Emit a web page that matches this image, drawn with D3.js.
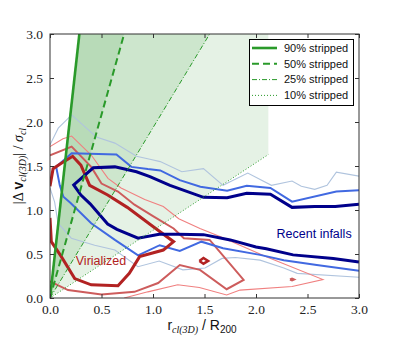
<!DOCTYPE html>
<html>
<head>
<meta charset="utf-8">
<script src="https://cdn.jsdelivr.net/npm/d3@7"></script>
<style>
  body { margin: 0; background: #fff; }
  svg { display: block; }
</style>
</head>
<body>
<svg id="chart" width="399" height="342"></svg>
<script>
// stripping lines: end points in (r, dv) units, all start at the origin
const stripLabels = ["90% stripped", "50% stripped", "25% stripped", "10% stripped"];
const stripEnds = [[0.285, 3.0], [0.72, 3.0], [1.55, 3.0], [2.12, 1.63]];

const xTicks = [0.0, 0.5, 1.0, 1.5, 2.0, 2.5, 3.0];
const yTicks = [0.0, 0.5, 1.0, 1.5, 2.0, 2.5, 3.0];

// recent infalls contours (outer -> inner)
const lightBlueUpper = [[0, 1.74], [0.08, 1.93], [0.21, 2.08], [0.45, 1.83], [0.63, 1.76], [0.84, 1.61], [0.97, 1.576], [1.07, 1.55], [1.28, 1.435], [1.49, 1.47], [1.68, 1.28], [1.92, 1.42], [2.15, 1.28], [2.35, 1.33], [2.44, 1.27], [2.57, 1.235], [2.69, 1.28], [2.78, 1.43], [3.0, 1.385]];
const lightBlueLower = [[0, 1.25], [0.045, 1.09], [0.078, 0.85], [0.207, 0.68], [0.434, 0.6], [0.63, 0.545], [0.854, 0.356], [1.06, 0.42], [1.29, 0.32], [1.505, 0.34], [1.67, 0.45], [1.8, 0.46], [2.04, 0.43], [2.27, 0.34], [2.4, 0.28], [3.0, 0.235]];
const royalLine = [[3.0, 1.225], [2.78, 1.21], [2.35, 1.095], [2.14, 1.25], [1.91, 1.275], [1.72, 1.22], [1.46, 1.265], [1.26, 1.34], [1.07, 1.45], [0.95, 1.465], [0.79, 1.49], [0.645, 1.63], [0.21, 1.645], [0.06, 1.49], [0.095, 1.28], [0.13, 1.15], [0.2, 1.08], [0.4, 0.85], [0.63, 0.66], [0.855, 0.485], [1.065, 0.6], [1.26, 0.535], [1.47, 0.64], [1.68, 0.565], [2.04, 0.49], [2.27, 0.43], [2.59, 0.375], [3.0, 0.31]];
const navyLine = [[3.0, 1.065], [2.77, 1.04], [2.57, 1.04], [2.35, 1.03], [2.14, 1.18], [1.91, 1.19], [1.72, 1.14], [1.49, 1.144], [1.165, 1.28], [0.97, 1.38], [0.84, 1.435], [0.63, 1.49], [0.42, 1.48], [0.23, 1.285], [0.3, 1.17], [0.39, 1.07], [0.56, 0.84], [0.65, 0.78], [0.855, 0.68], [1.06, 0.725], [1.24, 0.725], [1.49, 0.72], [1.75, 0.66], [2.0, 0.58], [2.1, 0.56], [2.36, 0.49], [2.75, 0.45], [3.0, 0.41]];

// virialized contours (outer -> inner)
const lightRedLine = [[0, 1.72], [0.126, 1.81], [0.21, 1.84], [0.4, 1.625], [0.563, 1.36], [0.69, 1.25], [0.92, 1.12], [1.1, 1.04], [1.25, 0.9], [1.456, 0.79], [1.65, 0.7], [2.1, 0.47], [2.65, 0.21], [2.35, 0.13], [1.845, 0.09], [1.715, 0.034], [1.45, 0.12], [1.24, 0.15], [0.95, 0.07], [0.72, 0.0]];
const midRedLine = [[0, 1.62], [0.21, 1.72], [0.4, 1.49], [0.5, 1.3], [0.66, 1.21], [0.82, 1.06], [1.0, 0.93], [1.2, 0.79], [1.3, 0.68], [1.55, 0.66], [1.88, 0.205], [1.715, 0.1], [1.456, 0.32], [1.26, 0.375], [1.05, 0.17], [0.82, 0.07], [0.5, 0.04], [0.175, 0.09], [0, 0.19]];
const midRedDot = [[2.33, 0.21], [2.35, 0.22], [2.37, 0.21], [2.35, 0.2], [2.33, 0.21]];
const darkRedLine = [[0, 1.27], [0.03, 1.47], [0.11, 1.53], [0.22, 1.61], [0.3, 1.51], [0.385, 1.28], [0.56, 1.17], [0.75, 1.03], [0.98, 0.83], [1.2, 0.64], [1.1, 0.545], [0.87, 0.47], [0.77, 0.28], [0.66, 0.14], [0.4, 0.15], [0.24, 0.22], [0.11, 0.47], [0.013, 0.64], [0, 0.91]];
const darkRedDiamond = [[1.45, 0.42], [1.49, 0.455], [1.535, 0.42], [1.49, 0.39], [1.45, 0.42]];

const svg = d3.select("#chart");
const margin = { left: 50, right: 40, top: 34, bottom: 44 };
const w = 399 - margin.left - margin.right,
	h = 342 - margin.top - margin.bottom;

const x = d3.scaleLinear().domain([0, 3]).range([margin.left, margin.left + w]);
const y = d3.scaleLinear().domain([0, 3]).range([margin.top + h, margin.top]);

svg.append("defs").append("clipPath").attr("id", "clip")
	.append("rect")
	.attr("x", margin.left).attr("y", margin.top)
	.attr("width", w).attr("height", h);

const plot = svg.append("g").attr("clip-path", "url(#clip)");

// green shaded wedges, each one stacked with alpha
const top90 = stripEnds[0];
const wedges = [
	[[0, 0], top90, [stripEnds[3][0], 3.0], stripEnds[3]],
	[[0, 0], top90, stripEnds[2]],
	[[0, 0], top90, stripEnds[1]]
];
plot.selectAll(".wedge")
	.data(wedges)
	.enter()
	.append("path")
	.attr("class", "wedge")
	.attr("d", d => "M" + d.map(p => x(p[0]) + "," + y(p[1])).join("L") + "Z")
	.attr("fill", "rgb(0,128,0)")
	.attr("fill-opacity", 0.1);

const line = d3.line().x(d => x(d[0])).y(d => y(d[1]));

const contours = [
	{ pts: lightBlueUpper, color: "#b0c4de", width: 1.1 },
	{ pts: lightBlueLower, color: "#b0c4de", width: 1.1 },
	{ pts: lightRedLine, color: "#f08080", width: 1.1 },
	{ pts: midRedLine, color: "#cd5c5c", width: 2 },
	{ pts: midRedDot, color: "#cd5c5c", width: 2 },
	{ pts: royalLine, color: "#4169e1", width: 2 },
	{ pts: darkRedLine, color: "#b22222", width: 3 },
	{ pts: darkRedDiamond, color: "#b22222", width: 2.5 },
	{ pts: navyLine, color: "#00008b", width: 3 }
];

plot.selectAll(".contour")
	.data(contours)
	.enter()
	.append("path")
	.attr("class", "contour")
	.attr("d", d => line(d.pts))
	.attr("fill", "none")
	.attr("stroke", d => d.color)
	.attr("stroke-width", d => d.width)
	.attr("stroke-linejoin", "miter");

// stripping lines
const green = "#2a9a2a";
const styles = [
	{ width: 2.6, dash: null },
	{ width: 2, dash: "7,4" },
	{ width: 1, dash: "5,2,1,2" },
	{ width: 1, dash: "1,2" }
];
plot.selectAll(".strip")
	.data(stripEnds)
	.enter()
	.append("path")
	.attr("class", "strip")
	.attr("d", d => line([[0, 0], d]))
	.attr("fill", "none")
	.attr("stroke", green)
	.attr("stroke-width", (d, i) => styles[i].width)
	.attr("stroke-dasharray", (d, i) => styles[i].dash);

// labels inside the plot
svg.append("text")
	.attr("x", x(0.25)).attr("y", y(0.38))
	.attr("font-family", "Liberation Sans, Arial, sans-serif")
	.attr("font-size", 12.5)
	.attr("fill", "#b22222")
	.text("Virialized");

svg.append("text")
	.attr("x", x(2.2)).attr("y", y(0.68))
	.attr("font-family", "Liberation Sans, Arial, sans-serif")
	.attr("font-size", 12.5)
	.attr("fill", "#00008b")
	.text("Recent infalls");

// axes, ticks point inward on all four sides
const axisColor = "#333";
const fmt = d3.format(".1f");
const gx = svg.append("g")
	.attr("transform", "translate(0," + (margin.top + h) + ")")
	.call(d3.axisBottom(x).tickValues(xTicks).tickFormat(fmt).tickSizeInner(-4).tickPadding(6));
const gxTop = svg.append("g")
	.attr("transform", "translate(0," + margin.top + ")")
	.call(d3.axisTop(x).tickValues(xTicks).tickFormat("").tickSizeInner(-4));
const gy = svg.append("g")
	.attr("transform", "translate(" + margin.left + ",0)")
	.call(d3.axisLeft(y).tickValues(yTicks).tickFormat(fmt).tickSizeInner(-4).tickPadding(7));
const gyRight = svg.append("g")
	.attr("transform", "translate(" + (margin.left + w) + ",0)")
	.call(d3.axisRight(y).tickValues(yTicks).tickFormat("").tickSizeInner(-4));

[gx, gxTop, gy, gyRight].forEach(g => {
	g.select(".domain").remove();
	g.selectAll(".tick line").attr("stroke", axisColor);
	g.selectAll(".tick text")
		.attr("fill", "#222")
		.attr("font-family", "Liberation Serif, Times New Roman, serif")
		.attr("font-size", 13.5);
});

svg.append("rect")
	.attr("x", margin.left).attr("y", margin.top)
	.attr("width", w).attr("height", h)
	.attr("fill", "none")
	.attr("stroke", axisColor)
	.attr("stroke-width", 1);

// axis titles
const sans = "Liberation Sans, Arial, sans-serif";
const serif = "Liberation Serif, Times New Roman, serif";

const xl = svg.append("text")
	.attr("x", 202).attr("y", 330)
	.attr("text-anchor", "middle")
	.attr("font-size", 14)
	.attr("fill", "#111");
xl.append("tspan").attr("font-family", sans).text("r");
xl.append("tspan").attr("font-family", serif).attr("font-style", "italic").attr("font-size", 10).attr("dy", 3).text("cl(3D)");
xl.append("tspan").attr("font-family", sans).attr("dy", -3).text(" / R");
xl.append("tspan").attr("font-family", sans).attr("font-size", 10).attr("dy", 3).text("200");

const yl = svg.append("text")
	.attr("transform", "translate(23," + (margin.top + h / 2) + ") rotate(-90)")
	.attr("text-anchor", "middle")
	.attr("font-size", 14)
	.attr("fill", "#111");
yl.append("tspan").attr("font-family", serif).text("|Δ ");
yl.append("tspan").attr("font-family", sans).attr("font-weight", "bold").text("v");
yl.append("tspan").attr("font-family", serif).attr("font-style", "italic").attr("font-size", 10).attr("dy", 3).text("cl(3D)");
yl.append("tspan").attr("font-family", serif).attr("dy", -3).text("| / ");
yl.append("tspan").attr("font-family", serif).attr("font-style", "italic").text("σ");
yl.append("tspan").attr("font-family", serif).attr("font-style", "italic").attr("font-size", 10).attr("dy", 3).text("cl");

// legend
const legend = svg.append("g");
legend.append("rect")
	.attr("x", 249.5).attr("y", 39.5)
	.attr("width", 104).attr("height", 66)
	.attr("fill", "#fff")
	.attr("stroke", "#000")
	.attr("stroke-width", 1);
const rows = legend.selectAll(".row")
	.data(stripLabels)
	.enter()
	.append("g")
	.attr("transform", (d, i) => "translate(0," + (48 + i * 15.8) + ")");
rows.append("line")
	.attr("x1", 252).attr("x2", 277)
	.attr("stroke", green)
	.attr("stroke-width", (d, i) => styles[i].width)
	.attr("stroke-dasharray", (d, i) => styles[i].dash);
rows.append("text")
	.attr("x", 284).attr("dy", "0.35em")
	.attr("font-family", sans)
	.attr("font-size", 11)
	.attr("fill", "#111")
	.text(d => d);
</script>
</body>
</html>
